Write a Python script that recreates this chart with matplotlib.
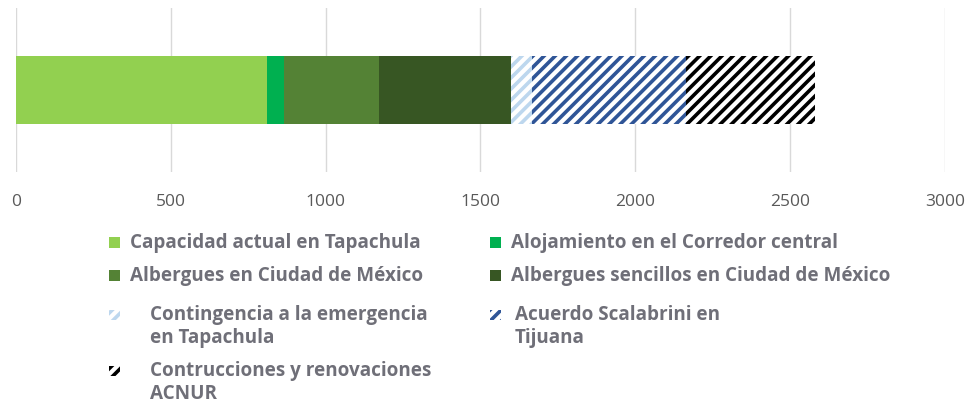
import matplotlib.pyplot as plt
from matplotlib.patches import Rectangle

plt.rcParams['font.family'] = ['Open Sans', 'DejaVu Sans']
plt.rcParams['hatch.linewidth'] = 2.6

labels = ["Capacidad actual en Tapachula",
          "Alojamiento en el Corredor central",
          "Albergues en Ciudad de México",
          "Albergues sencillos en Ciudad de México",
          "Contingencia a la emergencia\nen Tapachula",
          "Acuerdo Scalabrini en\nTijuana",
          "Contrucciones y renovaciones\nACNUR"]
values = [810, 57, 306, 426, 68, 498, 415]
colors = ["#92D050", "#00B050", "#548235", "#375623", "#BDD7EE", "#2F5597", "#000000"]
hatched = [False, False, False, False, True, True, True]
xticks = [0, 500, 1000, 1500, 2000, 2500, 3000]

txt = "#6F6F78"

fig = plt.figure(figsize=(9.7, 4.03), dpi=100)
ax = fig.add_axes([0.0165, 0.573, 0.9575, 0.407])

left = 0
for v, c, h in zip(values, colors, hatched):
    if h:
        ax.barh(0, v, left=left, height=0.82, color="white", edgecolor=c,
                hatch="///", linewidth=0)
    else:
        ax.barh(0, v, left=left, height=0.82, color=c, linewidth=0)
    left += v

ax.set_xlim(0, 3000)
ax.set_ylim(-1, 1)
ax.set_xticks(xticks)
ax.set_xticklabels([str(t) for t in xticks])
ax.set_yticks([])
ax.grid(axis="x", color="#D9D9D9", linewidth=1)
ax.set_axisbelow(True)
for s in ax.spines.values():
    s.set_visible(False)
ax.tick_params(axis="x", length=0, pad=16, labelsize=12.5, labelcolor="#595959")

# legend, two columns laid out like the original
W, H = 970, 403
rows = [(0, 243), (1, 243), (0, 276), (1, 276), (0, 315), (1, 315), (0, 371)]
colx = [109, 490]
for i, (lab, c, h) in enumerate(zip(labels, colors, hatched)):
    col, y = rows[i]
    mx = colx[col]
    if h:
        r = Rectangle((mx / W, 1 - (y + 5) / H), 11 / W, 10 / H, transform=fig.transFigure,
                      facecolor="white", edgecolor=c, hatch="///", linewidth=0)
        tx = mx + (41 if col == 0 else 25)
    else:
        r = Rectangle((mx / W, 1 - (y + 5) / H), 11 / W, 11 / H, transform=fig.transFigure,
                      facecolor=c, linewidth=0)
        tx = mx + 21
    fig.patches.append(r)
    fig.text(tx / W, 1 - (y - 10) / H, lab, fontsize=13.6, fontweight="bold",
             color=txt, va="top", ha="left", linespacing=1.18)

fig.savefig("out.png", dpi=100)
